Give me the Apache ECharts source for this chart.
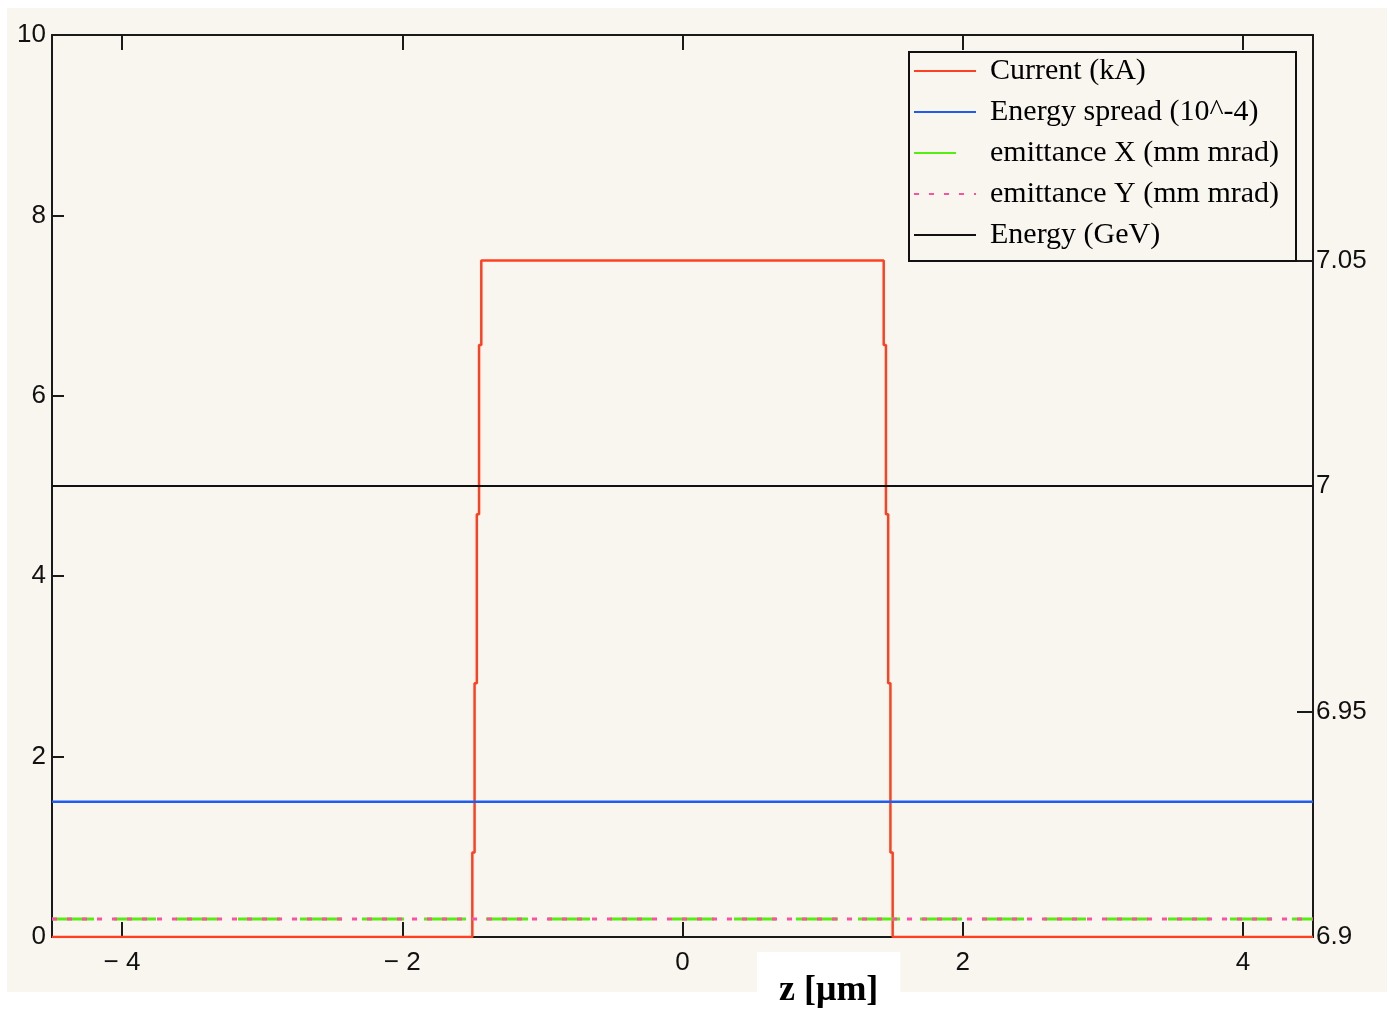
<!DOCTYPE html>
<html>
<head>
<meta charset="utf-8">
<script src="https://cdn.jsdelivr.net/npm/echarts@6/dist/echarts.min.js"></script>
<style>
html,body{margin:0;padding:0;background:#fff;}
#chart{width:1389px;height:1017px;}
</style>
</head>
<body>
<div id="chart"></div>
<script>
// ---- data ----
const seriesNames = ['Current (kA)', 'Energy spread (10^-4)', 'emittance X (mm mrad)', 'emittance Y (mm mrad)', 'Energy (GeV)'];
const currentZ  = [-4.5, -1.5, -1.484, -1.468, -1.452, -1.436, 1.436, 1.452, 1.468, 1.484, 1.5, 4.5];
const currentKA = [0, 0.9375, 2.8125, 4.6875, 6.5625, 7.5, 6.5625, 4.6875, 2.8125, 0.9375, 0, 0];
const flatZ = [-4.5, 4.5];
const energySpread = [1.5, 1.5];
const emittanceX = [0.2, 0.2];
const emittanceY = [0.2, 0.2];
const energyGeV = [7.0, 7.0];
const xTicks = [-4, -2, 0, 2, 4];
const xTitle = 'z [\u03bcm]';

const pair = (xs, ys) => xs.map((x, i) => [x, ys[i]]);

const chart = echarts.init(document.getElementById('chart'), null, {renderer: 'canvas'});
const axisColor = '#1a1a1a';
const tickFont = {fontFamily: 'Liberation Sans', fontSize: 26, color: '#111'};

const option = {
  backgroundColor: '#ffffff',
  animation: false,
  title: {
    text: xTitle,
    left: 757, top: 953,
    padding: [21, 22, 30, 22],
    backgroundColor: '#ffffff',
    textStyle: {fontFamily: 'Liberation Serif', fontWeight: 'bold', fontSize: 36, color: '#000', lineHeight: 34}
  },
  graphic: [
    {type: 'rect', z: -10, silent: true, shape: {x: 7, y: 8, width: 1380, height: 984}, style: {fill: '#f9f6f0'}},
    {type: 'rect', z: 3, silent: true, shape: {x: 909, y: 52, width: 387, height: 209}, style: {fill: '#f9f6f0', stroke: '#111', lineWidth: 2}}
  ],
  grid: {left: 52, right: 76, top: 35, bottom: 80, containLabel: false},
  legend: {
    z: 5,
    orient: 'vertical',
    left: 913, top: 56,
    padding: 0,
    itemWidth: 62, itemHeight: 14, itemGap: 11,
    data: seriesNames,
    itemStyle: {opacity: 0},
    textStyle: {fontFamily: 'Liberation Serif', fontSize: 30, color: '#000', lineHeight: 30, padding: [0, 0, 0, 9]}
  },
  xAxis: [
    {
      type: 'value', min: -4.5, max: 4.5, position: 'bottom',
      axisLine: {show: true, onZero: false, lineStyle: {color: axisColor, width: 2}},
      axisTick: {show: true, inside: true, length: 15, customValues: xTicks, lineStyle: {color: axisColor, width: 2}},
      axisLabel: {show: true, customValues: xTicks, margin: 13, ...tickFont,
        formatter: v => v < 0 ? '\u2212 ' + (-v) : String(v)},
      splitLine: {show: false}
    },
    {
      type: 'value', min: -4.5, max: 4.5, position: 'top',
      axisLine: {show: true, onZero: false, lineStyle: {color: axisColor, width: 2}},
      axisTick: {show: true, inside: true, length: 15, customValues: xTicks, lineStyle: {color: axisColor, width: 2}},
      axisLabel: {show: false},
      splitLine: {show: false}
    }
  ],
  yAxis: [
    {
      type: 'value', min: 0, max: 10, interval: 2, position: 'left',
      axisLine: {show: true, onZero: false, lineStyle: {color: axisColor, width: 2}},
      axisTick: {show: true, inside: true, length: 12, lineStyle: {color: axisColor, width: 2}},
      axisLabel: {show: true, margin: 6, ...tickFont},
      splitLine: {show: false}
    },
    {
      type: 'value', min: 6.9, max: 7.1, interval: 0.05, position: 'right',
      axisLine: {show: true, onZero: false, lineStyle: {color: axisColor, width: 2}},
      axisTick: {show: true, inside: true, length: 16, lineStyle: {color: axisColor, width: 2}},
      axisLabel: {show: true, margin: 3, ...tickFont,
        formatter: v => (Math.abs(v - 7.1) < 1e-6 ? '' : String(Math.round(v * 100) / 100))},
      splitLine: {show: false}
    }
  ],
  series: [
    {name: seriesNames[0], type: 'line', step: 'end', xAxisIndex: 0, yAxisIndex: 0, symbol: 'none',
     data: pair(currentZ, currentKA), lineStyle: {color: '#ff4020', width: 2.5}, itemStyle: {color: '#ff4020'}},
    {name: seriesNames[1], type: 'line', xAxisIndex: 0, yAxisIndex: 0, symbol: 'none',
     data: pair(flatZ, energySpread), lineStyle: {color: '#1f5cf0', width: 2.5}, itemStyle: {color: '#1f5cf0'}},
    {name: seriesNames[2], type: 'line', xAxisIndex: 0, yAxisIndex: 0, symbol: 'none',
     data: pair(flatZ, emittanceX), lineStyle: {color: '#55ee11', width: 3, type: [42, 20]}, itemStyle: {color: '#55ee11'}},
    {name: seriesNames[3], type: 'line', xAxisIndex: 0, yAxisIndex: 0, symbol: 'none',
     data: pair(flatZ, emittanceY), lineStyle: {color: '#ff4fa0', width: 3, type: [5, 10]}, itemStyle: {color: '#ff4fa0'}},
    {name: seriesNames[4], type: 'line', xAxisIndex: 0, yAxisIndex: 1, symbol: 'none',
     data: pair(flatZ, energyGeV), lineStyle: {color: '#111111', width: 2}, itemStyle: {color: '#111111'}}
  ]
};
chart.setOption(option);
</script>
</body>
</html>
